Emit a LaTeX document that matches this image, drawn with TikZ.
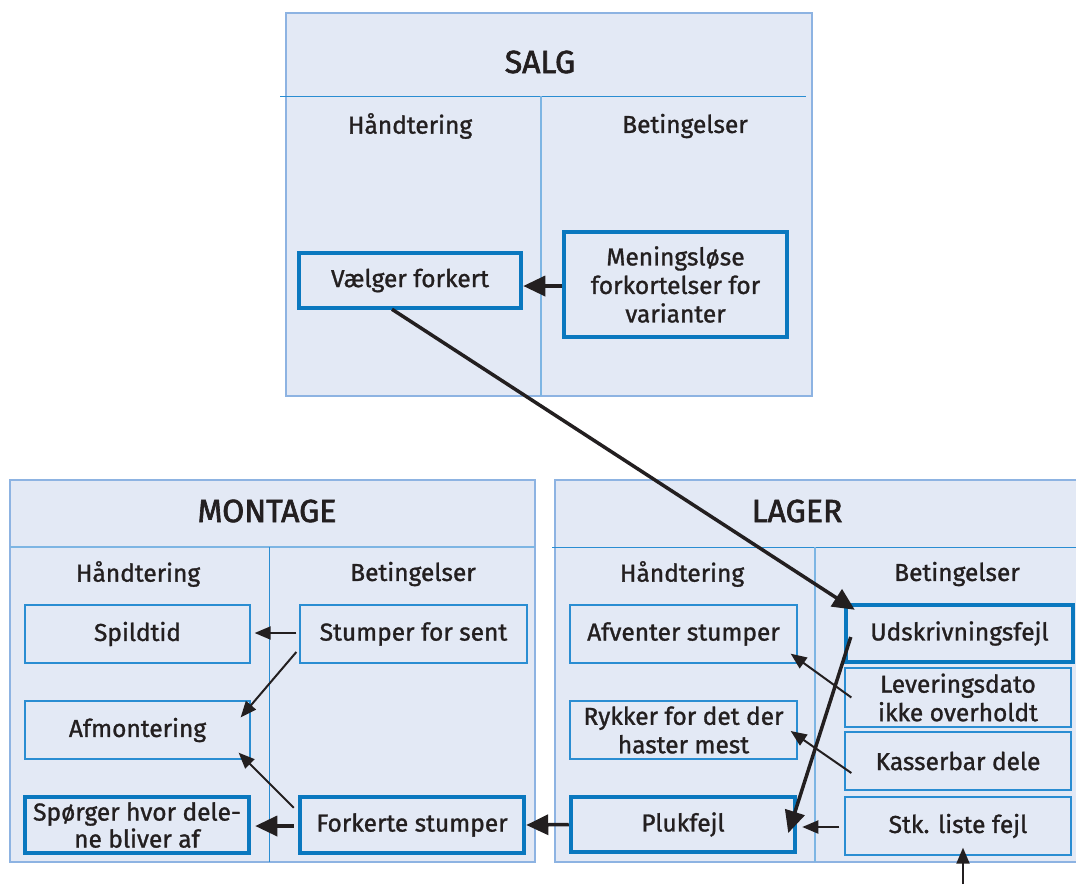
\documentclass[tikz,border=0pt]{standalone}
\usepackage{fontspec}
\setmainfont{Fira Sans}[FakeBold=1.2]
\newfontfamily\titlefont{Fira Sans}[FakeBold=2]
\usetikzlibrary{arrows.meta,calc}
\definecolor{bg}{HTML}{E3E9F5}
\definecolor{outerc}{HTML}{8DB3E2}
\definecolor{thinc}{HTML}{2A8DD2}
\definecolor{thickc}{HTML}{0A78BF}
\definecolor{divc}{HTML}{2A8DD2}
\definecolor{divl}{HTML}{7DB5E3}
\definecolor{txt}{HTML}{231F20}
\begin{document}
\begin{tikzpicture}[x=1pt,y=-1pt,
  outer/.style={draw=outerc,line width=2pt,fill=bg},
  title/.style={text=txt,font=\titlefont\fontsize{32}{36}\selectfont,inner sep=0pt},
  colhead/.style={text=txt,font=\fontsize{24.5}{28}\selectfont,inner sep=0pt},
  thinbox/.style={draw=thinc,line width=1.3pt,fill=bg,text=txt,inner sep=0pt,align=center,font=\fontsize{24.5}{28.5}\selectfont},
  thickbox/.style={draw=thickc,line width=4.5pt,fill=bg,text=txt,inner sep=0pt,align=center,font=\fontsize{24.5}{28.5}\selectfont},
  thickarr/.style={draw=txt,line width=3.5pt,-{Triangle[length=22pt,width=20pt]}},
  thinarr/.style={draw=txt,line width=2pt,-{Triangle[length=16pt,width=13pt]}},
  divh/.style={draw=divc,line width=1pt},
  divv/.style={draw=divl,line width=1.2pt}
]
\useasboundingbox (0,0) rectangle (1076,884);
\fill[white] (0,0) rectangle (1076,884);

% SALG
\path[outer] (286,13) rectangle (812,396);
\draw[divh] (280,96) -- (806,96);
\draw[divv] (541,96) -- (541,396);
\node[title] (salgT) at (540,62) {SALG};
\node[colhead] (salgH) at (410,126) {Håndtering};
\node[colhead] (salgB) at (685,126) {Betingelser};
\node[thickbox,minimum width=222pt,minimum height=55pt] (vaelger) at (410,280.5) {Vælger forkert};
\node[thickbox,minimum width=223pt,minimum height=105pt] (mening) at (675.5,284.5) {Meningsløse\\forkortelser for\\varianter};

% MONTAGE
\path[outer] (10,480) rectangle (535,862);
\draw[divl,line width=1.2pt] (10,547) -- (535,547);
\draw[divc,line width=1pt] (269,547) -- (269,862);
\node[title] (montT) at (267,511) {MONTAGE};
\node[colhead] (montH) at (138,574) {Håndtering};
\node[colhead] (montB) at (413,574) {Betingelser};
\node[thinbox,minimum width=225pt,minimum height=58pt] (spild) at (137.5,634) {Spildtid};
\node[thinbox,minimum width=227pt,minimum height=58pt] (stumper) at (413.5,634) {Stumper for sent};
\node[thinbox,minimum width=225pt,minimum height=58pt] (afmont) at (137.5,730) {Afmontering};
\node[thickbox,minimum width=224pt,minimum height=56pt,font=\fontsize{24.5}{27}\selectfont] (spoerger) at (137,825) {Spørger hvor dele-\\ne bliver af};
\node[thickbox,minimum width=224pt,minimum height=56pt] (forkerte) at (412,825) {Forkerte stumper};

% LAGER
\path[outer] (555,480) rectangle (1090,862);
\draw[divh] (552,547) -- (1076,547);
\draw[divv] (815,547) -- (815,862);
\node[title] (lagerT) at (797,511) {LAGER};
\node[colhead] (lagerH) at (682,574) {Håndtering};
\node[colhead] (lagerB) at (957,574) {Betingelser};
\node[thinbox,minimum width=227pt,minimum height=58pt] (afventer) at (683.5,634) {Afventer stumper};
\node[thinbox,minimum width=227pt,minimum height=58pt] (rykker) at (683.5,730) {Rykker for det der\\haster mest};
\node[thickbox,minimum width=224pt,minimum height=55pt] (pluk) at (683,824.5) {Plukfejl};
\node[thickbox,minimum width=227pt,minimum height=57pt] (udskriv) at (959.5,633.5) {Udskrivningsfejl};
\node[thinbox,minimum width=226pt,minimum height=59pt] (lever) at (958,697.5) {Leveringsdato\\ikke overholdt};
\node[thinbox,minimum width=226pt,minimum height=58pt] (kasser) at (958,761) {Kasserbar dele};
\node[thinbox,minimum width=226pt,minimum height=58pt] (stk) at (958,826) {Stk. liste fejl};
\coordinate (ext) at (963,884);

% connectors
\draw[thickarr] (mening.west |- 0,286) -- (vaelger.east |- 0,286);
\draw[thickarr] ($(vaelger.south)+(-18,-1)$) -- ($(udskriv.north west)+(11,7)$);
\draw[thickarr] ($(udskriv.west)+(7,3.5)$) -- ($(pluk.east)+(-9,8.5)$);
\draw[thinarr] ($(lever.west)+(7,0)$) -- ($(afventer.south east)+(-7,-10)$);
\draw[thinarr] ($(kasser.west)+(7,12)$) -- ($(rykker.east)+(-7,1)$);
\draw[thinarr] ($(stk.west)+(-5,1)$) -- ($(pluk.east)+(5,2.5)$);
\draw[thinarr] (ext) -- ($(stk.south)+(5,-8)$);
\draw[thickarr] (pluk.west) -- (forkerte.east);
\draw[thickarr] ($(forkerte.west)+(-4,1)$) -- ($(spoerger.east)+(4,1)$);
\draw[thinarr] ($(forkerte.north west)+(-4,13)$) -- ($(afmont.south east)+(-12,-7)$);
\draw[thinarr] ($(stumper.west)+(-3,-1)$) -- ($(spild.east)+(4,-1)$);
\draw[thinarr] ($(stumper.west)+(-3,18)$) -- ($(afmont.north east)+(-10,17)$);
\end{tikzpicture}
\end{document}
